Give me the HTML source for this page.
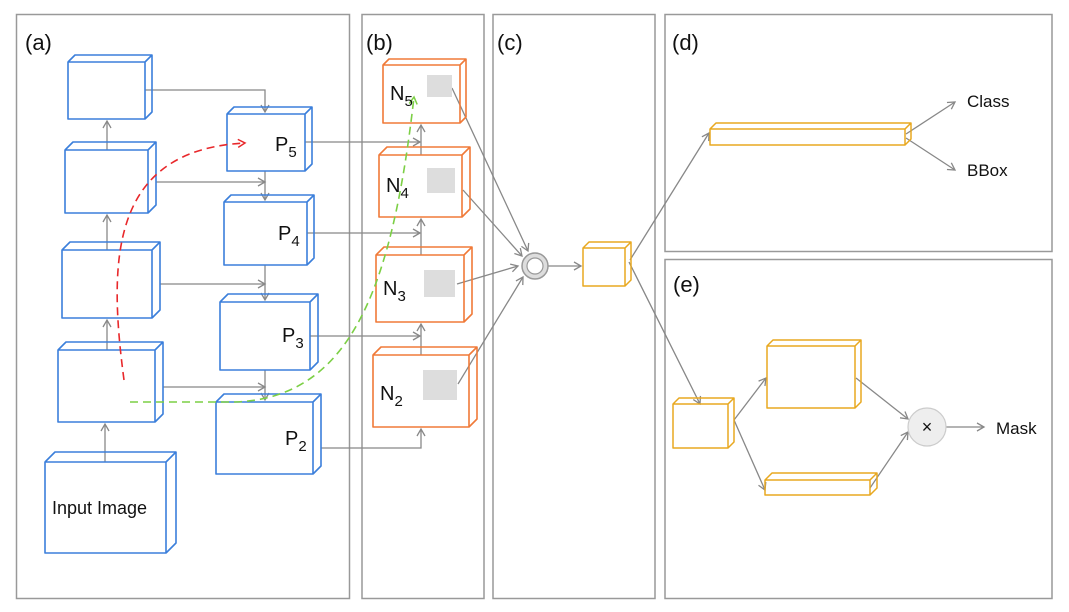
<!DOCTYPE html>
<html><head><meta charset="utf-8"><style>
html,body{margin:0;padding:0;background:#fff}
svg{display:block}
text{font-family:"Liberation Sans",sans-serif;fill:#111}
</style></head><body>
<svg width="1069" height="612" viewBox="0 0 1069 612" xmlns="http://www.w3.org/2000/svg">
<defs>
<marker id="a" markerWidth="10" markerHeight="10" refX="8" refY="5" orient="auto" markerUnits="userSpaceOnUse">
<path d="M1,1 L8,5 L1,9" fill="none" stroke="#888" stroke-width="1.3"/></marker>
<marker id="r" markerWidth="10" markerHeight="10" refX="8" refY="5" orient="auto" markerUnits="userSpaceOnUse">
<path d="M1,1 L8,5 L1,9" fill="none" stroke="#e8282b" stroke-width="1.5"/></marker>
<marker id="g" markerWidth="10" markerHeight="10" refX="8" refY="5" orient="auto" markerUnits="userSpaceOnUse">
<path d="M1,1 L8,5 L1,9" fill="none" stroke="#7ccf45" stroke-width="1.5"/></marker>
</defs>
<g fill="none" stroke="#999" stroke-width="1.5">
<rect x="16.5" y="14.5" width="333" height="584"/>
<rect x="362" y="14.5" width="122" height="584"/>
<rect x="493" y="14.5" width="162" height="584"/>
<rect x="665" y="14.5" width="387" height="237"/>
<rect x="665" y="259.5" width="387" height="339"/>
</g>
<g font-size="22">
<text x="25" y="50">(a)</text><text x="366" y="50">(b)</text><text x="497" y="50">(c)</text>
<text x="672" y="50">(d)</text><text x="673" y="292">(e)</text>
</g>
<g fill="none" stroke="#888" stroke-width="1.3">
<path d="M145,90H265V112" marker-end="url(#a)"/>
<path d="M156,182H265" marker-end="url(#a)"/>
<path d="M160,284H265" marker-end="url(#a)"/>
<path d="M163,387H265" marker-end="url(#a)"/>
<path d="M265,171V200" marker-end="url(#a)"/>
<path d="M265,265V300" marker-end="url(#a)"/>
<path d="M265,370V400" marker-end="url(#a)"/>
<path d="M107,150V121" marker-end="url(#a)"/>
<path d="M107,250V215" marker-end="url(#a)"/>
<path d="M107,350V320" marker-end="url(#a)"/>
<path d="M105,462V424" marker-end="url(#a)"/>
<path d="M305,142H420" marker-end="url(#a)"/>
<path d="M307,233H420" marker-end="url(#a)"/>
<path d="M310,336H420" marker-end="url(#a)"/>
<path d="M321,448H421V429" marker-end="url(#a)"/>
<path d="M421,155V125" marker-end="url(#a)"/>
<path d="M421,255V219" marker-end="url(#a)"/>
<path d="M421,355V324" marker-end="url(#a)"/>
<path d="M452,88L528,251" marker-end="url(#a)"/>
<path d="M463,190L522,256" marker-end="url(#a)"/>
<path d="M457,284L518,266" marker-end="url(#a)"/>
<path d="M458,384L523,277" marker-end="url(#a)"/>
<path d="M547,266H581" marker-end="url(#a)"/>
<path d="M630,260L709,133" marker-end="url(#a)"/>
<path d="M629,262L700,404" marker-end="url(#a)"/>
<path d="M906,134L955,102" marker-end="url(#a)"/>
<path d="M906,138L955,170" marker-end="url(#a)"/>
<path d="M734,420L766,378" marker-end="url(#a)"/>
<path d="M734,420L765,490" marker-end="url(#a)"/>
<path d="M856,378L908,419" marker-end="url(#a)"/>
<path d="M870,488L908,432" marker-end="url(#a)"/>
<path d="M946,427H984" marker-end="url(#a)"/>
</g>
<g fill="none" stroke="#3b7fdb" stroke-width="1.6" stroke-linejoin="round">
<path d="M68,62h77v57h-77z M68,62l7,-7h77v57l-7,7 M145,62l7,-7"/>
<path d="M65,150h83v63h-83z M65,150l8,-8h83v63l-8,8 M148,150l8,-8"/>
<path d="M62,250h90v68h-90z M62,250l8,-8h90v68l-8,8 M152,250l8,-8"/>
<path d="M58,350h97v72h-97z M58,350l8,-8h97v72l-8,8 M155,350l8,-8"/>
<path d="M45,462h121v91h-121z M45,462l10,-10h121v91l-10,10 M166,462l10,-10"/>
<path d="M227,114h78v57h-78z M227,114l7,-7h78v57l-7,7 M305,114l7,-7"/>
<path d="M224,202h83v63h-83z M224,202l7,-7h83v63l-7,7 M307,202l7,-7"/>
<path d="M220,302h90v68h-90z M220,302l8,-8h90v68l-8,8 M310,302l8,-8"/>
<path d="M216,402h97v72h-97z M216,402l8,-8h97v72l-8,8 M313,402l8,-8"/>
</g>
<g fill="#ddd" stroke="none">
<rect x="427" y="75" width="25" height="22"/>
<rect x="427" y="168" width="28" height="25"/>
<rect x="424" y="270" width="31" height="27"/>
<rect x="423" y="370" width="34" height="30"/>
</g>
<g fill="none" stroke="#f07a38" stroke-width="1.6" stroke-linejoin="round">
<path d="M383,65h77v58h-77z M383,65l6,-6h77v58l-6,6 M460,65l6,-6"/>
<path d="M379,155h83v62h-83z M379,155l8,-8h83v62l-8,8 M462,155l8,-8"/>
<path d="M376,255h88v67h-88z M376,255l8,-8h88v67l-8,8 M464,255l8,-8"/>
<path d="M373,355h96v72h-96z M373,355l8,-8h96v72l-8,8 M469,355l8,-8"/>
</g>
<g fill="none" stroke="#e8a820" stroke-width="1.5" stroke-linejoin="round">
<path d="M583,248h42v38h-42z M583,248l6,-6h42v38l-6,6 M625,248l6,-6"/>
<path d="M710,129h195v16h-195z M710,129l6,-6h195v16l-6,6 M905,129l6,-6"/>
<path d="M673,404h55v44h-55z M673,404l6,-6h55v44l-6,6 M728,404l6,-6"/>
<path d="M767,346h88v62h-88z M767,346l6,-6h88v62l-6,6 M855,346l6,-6"/>
<path d="M765,480h105v15h-105z M765,480l7,-7h105v15l-7,7 M870,480l7,-7"/>
</g>
<circle cx="535" cy="266" r="13" fill="#ddd" stroke="#999" stroke-width="1.5"/>
<circle cx="535" cy="266" r="8" fill="#fff" stroke="#999" stroke-width="1.2"/>
<circle cx="927" cy="427" r="19" fill="#eee" stroke="#ccc" stroke-width="1.2"/>
<text x="927" y="433" font-size="18" text-anchor="middle">×</text>
<path d="M124,380 C108,260 110,150 245,143" fill="none" stroke="#e8282b" stroke-width="1.6" stroke-dasharray="8,5" marker-end="url(#r)"/>
<path d="M130,402 L235,402 C350,398 392,290 414,97" fill="none" stroke="#7ccf45" stroke-width="1.6" stroke-dasharray="8,5" marker-end="url(#g)"/>
<g font-size="20">
<text x="275" y="151">P<tspan font-size="15" dy="6">5</tspan></text>
<text x="278" y="240">P<tspan font-size="15" dy="6">4</tspan></text>
<text x="282" y="342">P<tspan font-size="15" dy="6">3</tspan></text>
<text x="285" y="445">P<tspan font-size="15" dy="6">2</tspan></text>
<text x="390" y="100">N<tspan font-size="15" dy="6">5</tspan></text>
<text x="386" y="192">N<tspan font-size="15" dy="6">4</tspan></text>
<text x="383" y="295">N<tspan font-size="15" dy="6">3</tspan></text>
<text x="380" y="400">N<tspan font-size="15" dy="6">2</tspan></text>
</g>
<g font-size="17">
<text x="52" y="514" font-size="18">Input Image</text>
<text x="967" y="107">Class</text>
<text x="967" y="176">BBox</text>
<text x="996" y="434">Mask</text>
</g>
</svg>
</body></html>
